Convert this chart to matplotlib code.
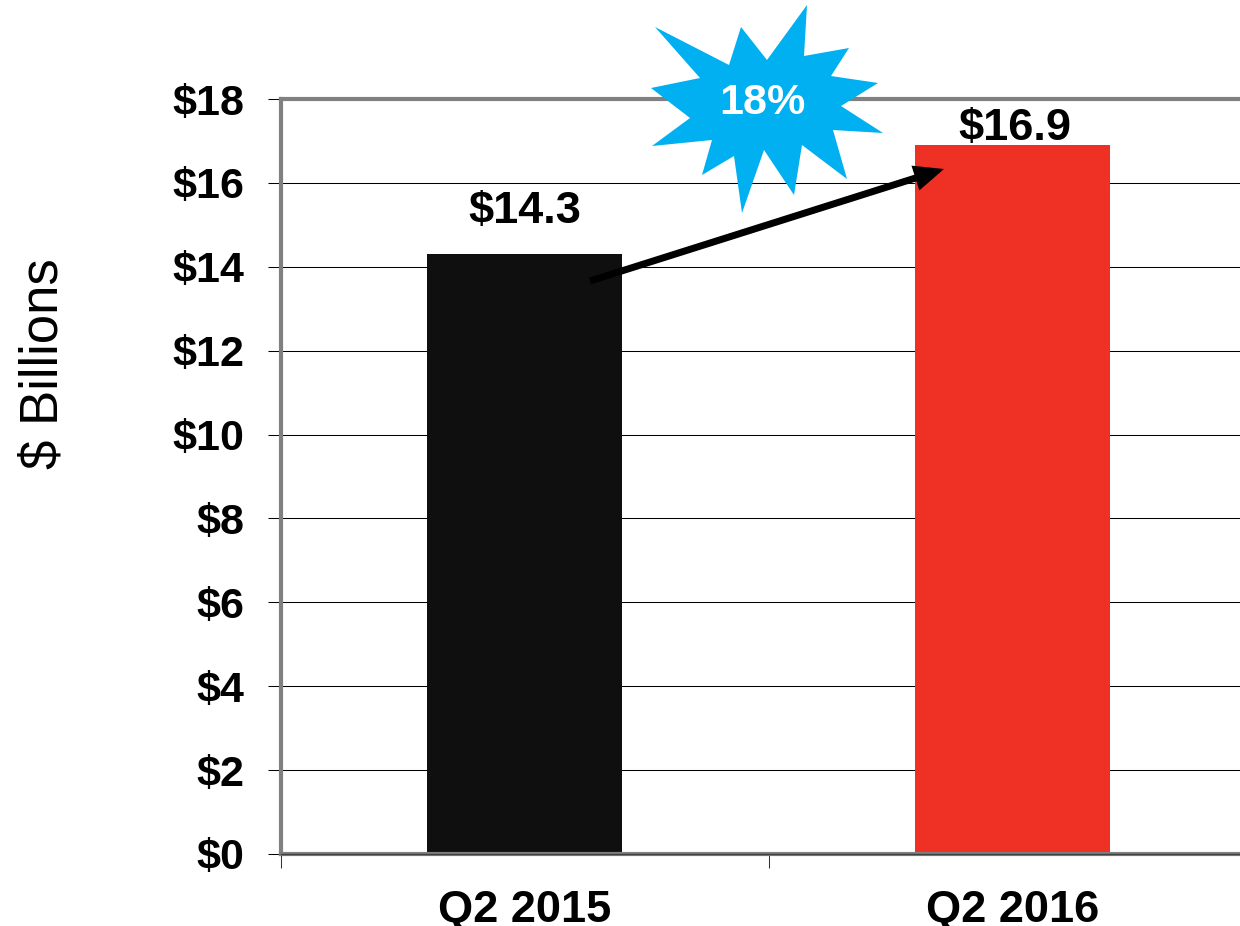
import numpy as np
import matplotlib
matplotlib.use('Agg')
import matplotlib.pyplot as plt
from matplotlib.patches import Polygon

plt.rcParams['font.family'] = ['Liberation Sans', 'DejaVu Sans']

quarters = ['Q2 2015', 'Q2 2016']
revenue = [14.3, 16.9]
bar_colors = ['#0f0f0f', '#ef3024']
y_ticks = [0, 2, 4, 6, 8, 10, 12, 14, 16, 18]
growth_label = '18%'

W, H = 1240, 926
fig = plt.figure(figsize=(W / 100, H / 100), dpi=100)
# axes run past the right edge of the picture on purpose
ax = fig.add_axes([281 / W, 1 - 854 / H, 975 / W, 755 / H])

x = np.arange(len(quarters))
ax.set_axisbelow(True)
ax.yaxis.grid(True, color='black', linewidth=0.75)
ax.bar(x, revenue, width=0.4, color=bar_colors, zorder=2)

ax.set_xlim(-0.5, 1.5)
ax.set_ylim(0, 18)
ax.set_yticks(y_ticks)
ax.set_yticklabels(['$%d' % v for v in y_ticks], fontsize=31, fontweight='bold')
ax.set_xticks([-0.5, 0.5, 1.5])
ax.set_xticklabels([])
ax.tick_params(axis='y', length=9.4, width=0.75, color='black', pad=17)
ax.tick_params(axis='x', length=10, width=0.75, color='#333333')

for q, xpos in zip(quarters, x):
    ax.annotate(q, (xpos, 0), xytext=(0, -68), textcoords='offset pixels',
                ha='center', va='baseline', fontsize=32.5, fontweight='bold',
                annotation_clip=False)

for spine in ['top', 'left', 'bottom']:
    ax.spines[spine].set_color('#808080')
    ax.spines[spine].set_linewidth(3)
ax.spines['right'].set_visible(False)
# darker core of the base line
ax.axhline(0, color='#404040', linewidth=1, clip_on=False, zorder=3)

ax.annotate('$%.1f' % revenue[0], (x[0], revenue[0]), xytext=(0, 43), textcoords='offset pixels',
            ha='center', va='center', fontsize=32.5, fontweight='bold')
ax.annotate('$%.1f' % revenue[1], (x[1], revenue[1]), xytext=(3, 17), textcoords='offset pixels',
            ha='center', va='center', fontsize=32.5, fontweight='bold')

fig.text(44 / W, 1 - 364 / H, '$ Billions', rotation=90, ha='center', va='center', fontsize=38)

# overlay shapes, placed in picture pixels
overlay = fig.add_axes([0, 0, 1, 1], facecolor='none')
overlay.set_xlim(0, W)
overlay.set_ylim(H, 0)
overlay.axis('off')

burst = [(655, 27), (729, 65), (741, 27), (767, 60), (807, 5), (804, 56), (849, 48), (831, 76),
         (878, 83), (841, 106), (883, 133), (833, 130), (847, 179), (802, 145), (794, 195),
         (764, 150), (742, 213), (734, 156), (702, 175), (712, 140), (652, 146), (690, 118),
         (651, 88), (700, 78)]
overlay.add_patch(Polygon(burst, closed=True, facecolor='#00b0f0', edgecolor='none'))
overlay.text(762, 103, growth_label, color='white', ha='center', va='center',
             fontsize=31, fontweight='bold')
overlay.arrow(590, 281, 354, -112, width=7, head_width=26, head_length=30,
              length_includes_head=True, facecolor='black', edgecolor='none')

fig.savefig('out.png', dpi=100)
